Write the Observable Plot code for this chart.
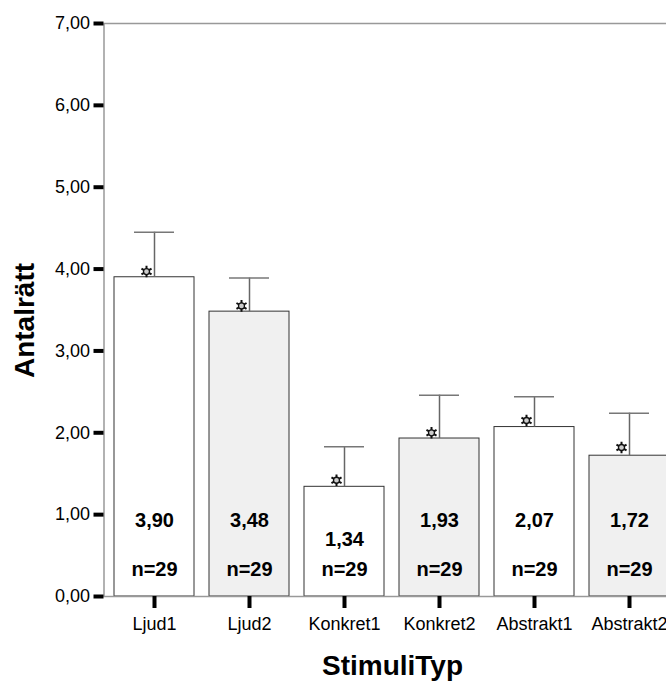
<!DOCTYPE html>
<html><head><meta charset="utf-8">
<script src="https://cdn.jsdelivr.net/npm/d3@7"></script>
<script src="https://cdn.jsdelivr.net/npm/@observablehq/plot@0.6"></script>
<style>
html,body{margin:0;padding:0;background:#fff;overflow:hidden;}
#chart svg{max-width:none !important;}
</style></head><body><div id="chart"></div>
<script>
const categories = ["Ljud1", "Ljud2", "Konkret1", "Konkret2", "Abstrakt1", "Abstrakt2"];
const means = [3.90, 3.48, 1.34, 1.93, 2.07, 1.72];
const upperBounds = [4.45, 3.89, 1.83, 2.46, 2.44, 2.24];
const markers = [3.97, 3.55, 1.42, 2.00, 2.15, 1.82];
const counts = [29, 29, 29, 29, 29, 29];
const yTicks = [0, 1, 2, 3, 4, 5, 6, 7];

const comma = v => d3.format(".2f")(v).replace(".", ",");
const rows = categories.map((c, i) => ({
  cat: c, mean: means[i], upper: upperBounds[i], marker: markers[i], n: counts[i],
  fill: i % 2 ? "#f0f0f0" : "#ffffff",
  labelY: Math.min(0.93, means[i] - 0.65)
}));
const font = "'Liberation Sans', Arial, sans-serif";

const chart = Plot.plot({
  width: 690, height: 686,
  marginLeft: 103.5, marginRight: 9.5, marginTop: 23, marginBottom: 90,
  style: {fontFamily: font, background: "#fff", color: "#000", maxWidth: "none"},
  x: {domain: categories, paddingInner: 0.154, paddingOuter: 0.092, label: null},
  y: {domain: [0, 7], label: null},
  color: {type: "identity"},
  marks: [
    Plot.barY(rows, {x: "cat", y: "mean", fill: "fill", stroke: "#333", strokeWidth: 1}),
    Plot.ruleX(rows, {x: "cat", y1: "mean", y2: "upper", stroke: "#666", strokeWidth: 1.5}),
    Plot.tickY(rows, {x: "cat", y: "upper", stroke: "#777", strokeWidth: 1.5, inset: 20}),
    Plot.dot(rows, {x: "cat", y: "marker", dx: -8, symbol: "asterisk", r: 5.5, stroke: "#111", strokeWidth: 2}),
    Plot.dot(rows, {x: "cat", y: "marker", dx: -8, symbol: "circle", r: 3, stroke: "#111", fill: "#ccc", strokeWidth: 1.3}),
    Plot.text(rows, {x: "cat", y: "labelY", text: d => comma(d.mean), fontSize: 20, fontWeight: "bold"}),
    Plot.text(rows, {x: "cat", y: () => 0.33, text: d => "n=" + d.n, fontSize: 20, fontWeight: "bold"}),
    Plot.frame({stroke: "#999", strokeWidth: 1.5}),
    Plot.axisY(yTicks, {tickSize: 10, tickPadding: 4, strokeWidth: 4, stroke: "#000", fontSize: 18, tickFormat: comma, label: null}),
    Plot.axisX({tickSize: 12, tickPadding: 9, strokeWidth: 4, stroke: "#000", fontSize: 18, label: null}),
    Plot.text(["Antalrätt"], {frameAnchor: "left", textAnchor: "middle", lineAnchor: "middle", dx: -79, dy: 10.5, rotate: -90, fontSize: 28, fontWeight: "bold"}),
    Plot.text(["StimuliTyp"], {frameAnchor: "bottom", textAnchor: "middle", lineAnchor: "middle", dy: 70, fontSize: 28, fontWeight: "bold"})
  ]
});
document.getElementById("chart").append(chart);
</script>
</body></html>
